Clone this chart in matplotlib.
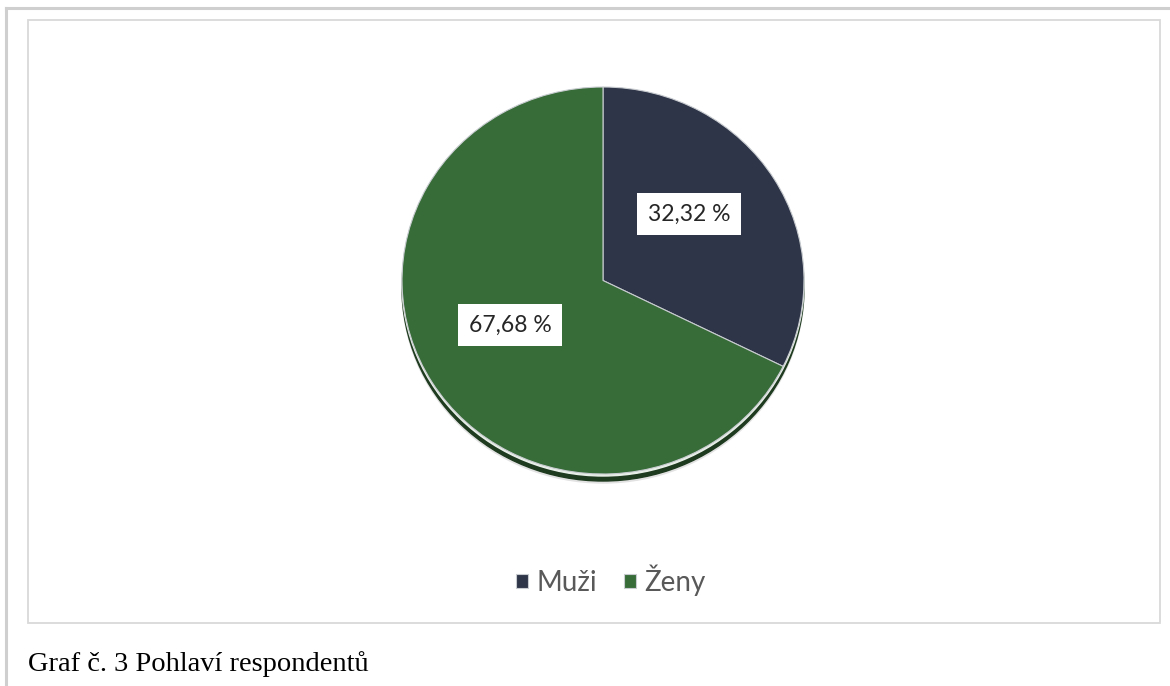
import matplotlib
matplotlib.use("Agg")
import matplotlib.pyplot as plt
from matplotlib.patches import Ellipse, Rectangle
from matplotlib.lines import Line2D

# data
categories = ["Muži", "Ženy"]
shares = [32.32, 67.68]
value_labels = ["32,32 %", "67,68 %"]
colors = ["#2e3548", "#376b38"]
caption = "Graf č. 3 Pohlaví respondentů"

W, H = 1170, 686
fig = plt.figure(figsize=(W / 100, H / 100), dpi=100, facecolor="white")

# background axes in pixel coordinates (y upwards)
ax = fig.add_axes([0, 0, 1, 1])
ax.set_xlim(0, W)
ax.set_ylim(0, H)
ax.axis("off")

# page / chart frames
ax.add_line(Line2D([6, W], [H - 8, H - 8], color="#cfcfcf", lw=2.2))
ax.add_line(Line2D([6, 6], [0, H - 8], color="#cfcfcf", lw=2.2))
ax.add_patch(Rectangle((28, H - 623), 1160 - 28, 623 - 20, fill=False,
                       edgecolor="#d9d9d9", lw=1.3))

# pie axes (slightly flattened like the original)
left, right, top, bottom = 402, 804, 87, 474
pax = fig.add_axes([left / W, 1 - bottom / H, (right - left) / W,
                    (bottom - top) / H])
py = 2 / (bottom - top)  # data units per pixel vertically

# shadow under the pie
pax.add_patch(Ellipse((0, -9 * py), 2, 2, color="#e2e2e2", zorder=1,
                      clip_on=False))
pax.add_patch(Ellipse((0, -7 * py), 2, 2, color="#1e3a1f", zorder=2,
                      clip_on=False))
pax.add_patch(Ellipse((0, -2 * py), 2, 2, color="#e8efe8", zorder=2.5,
                      clip_on=False))

wedges, _ = pax.pie(shares, colors=colors, startangle=90, counterclock=False,
                    radius=1, frame=True,
                    wedgeprops=dict(edgecolor="#c8ccd0", linewidth=0.8,
                                    zorder=3))
pax.set_aspect("auto")
pax.set_xlim(-1, 1)
pax.set_ylim(-1, 1)
pax.axis("off")

# value labels with white boxes
label_pos = [(689, H - 214), (510, H - 325)]
for (lx, ly), txt in zip(label_pos, value_labels):
    pax.text(lx, ly, txt, transform=ax.transData, ha="center", va="center",
             fontsize=16.5, family="Lato", color="#262626", zorder=5,
             bbox=dict(boxstyle="square,pad=0.45", facecolor="white",
                       edgecolor="none"))

# legend
ax.legend(wedges, categories, loc="center",
          bbox_to_anchor=(611 / W, 1 - 580 / H), ncol=2, frameon=False,
          handlelength=0.42, handleheight=0.42, handletextpad=0.32,
          columnspacing=0.97, prop=dict(family="Lato", size=20),
          labelcolor="#595959")

# caption
fig.text(28 / W, 1 - 671 / H, caption, ha="left", va="baseline",
         fontsize=20.5, family="Liberation Serif", color="black")

fig.savefig("out.png", dpi=100, facecolor="white")
